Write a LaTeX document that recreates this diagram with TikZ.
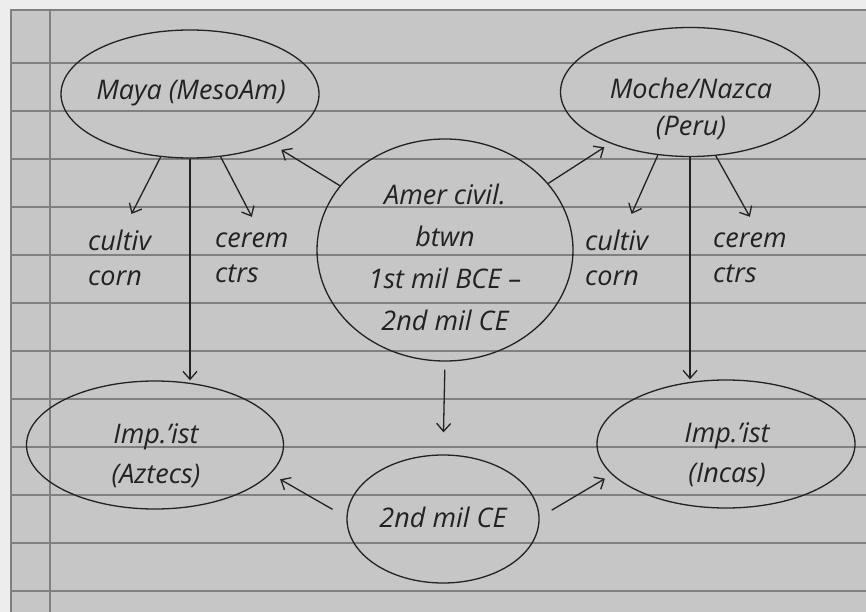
\documentclass[tikz,border=0pt]{standalone}
\usepackage{fontspec}
\setmainfont{Open Sans}
\usetikzlibrary{arrows.meta}
\usetikzlibrary{shapes.geometric}
\usetikzlibrary{positioning}

\definecolor{paper}{HTML}{C6C6C6}
\definecolor{outside}{HTML}{EDEDED}
\definecolor{rule}{HTML}{808080}
\definecolor{ink}{HTML}{222222}

\tikzset{
  oval/.style={draw=ink, line width=1.3pt, ellipse, inner sep=0pt},
  txt/.style={text=ink, align=center, inner sep=2pt, font=\itshape\fontsize{27}{40}\selectfont},
  note/.style={text=ink, align=left, inner sep=2pt, anchor=west, font=\itshape\fontsize{27}{35}\selectfont},
  arr/.style={draw=ink, line width=1.3pt, -{Straight Barb[length=8pt,width=14pt]}},
  ruled/.style={draw=rule, line width=1.4pt}
}

\begin{document}
\begin{tikzpicture}[x=1pt,y=-1pt]
\useasboundingbox (0,0) rectangle (866,612);

% page
\fill[outside] (0,0) rectangle (866,612);
\fill[paper] (11,10) rectangle (866,612);
\foreach \y in {63,111,...,591}
  \draw[ruled] (11,\y) -- (866,\y);
\draw[ruled] (11,612) -- (11,10) -- (866,10);
\draw[ruled] (50,10) -- (50,612);

% ovals
\node[oval, minimum width=256pt, minimum height=222pt] (amer) at (445,250) {};
\node[txt, font=\itshape\fontsize{27}{42}\selectfont] (amerT) at (445,257) {Amer civil.\\btwn\\1st mil BCE --\\2nd mil CE};

\node[oval, minimum width=258pt, minimum height=128pt] (maya) at (190,94) {};
\node[txt] (mayaT) at (191,93) {Maya (MesoAm)};

\node[oval, minimum width=259pt, minimum height=129pt] (moche) at (690,92) {};
\node[txt, font=\itshape\fontsize{27}{37}\selectfont] (mocheT) at (691,109) {Moche/Nazca\\(Peru)};

\node[oval, minimum width=257pt, minimum height=128pt] (aztecs) at (155,445) {};
\node[txt] (aztecsT) at (156,456) {Imp.’ist\\(Aztecs)};

\node[oval, minimum width=258pt, minimum height=128pt] (incas) at (726,444) {};
\node[txt] (incasT) at (727,455) {Imp.’ist\\(Incas)};

\node[oval, minimum width=192pt, minimum height=128pt] (second) at (443,519) {};
\node[txt] (secondT) at (443,517) {2nd mil CE};

% notes
\node[note] (mayaCult) at (86,258) {cultiv\\corn};
\node[note] (mayaCer) at (213,258) {cerem\\ctrs};
\node[note] (mocheCult) at (583,258) {cultiv\\corn};
\node[note] (mocheCer) at (711,258) {cerem\\ctrs};

%
\draw[arr, shorten >=11pt] (amer) -- (maya);
\draw[arr, shorten >=7pt] (amer) -- (moche);
\draw[arr] (maya.245) -- ([xshift=12pt,yshift=14pt]mayaCult.north);
\draw[arr] (maya.296) -- ([xshift=0pt,yshift=14pt]mayaCer.north);
\draw[arr] (moche.243) -- ([xshift=15pt,yshift=14pt]mocheCult.north);
\draw[arr] (moche.292) -- ([xshift=0pt,yshift=14pt]mocheCer.north);
\draw[arr] (maya.south) -- (maya.south |- aztecs.north);
\draw[arr] (moche.south) -- (moche.south |- incas.north);
\draw[arr, shorten <=8pt, shorten >=22pt] (amer.south) -- (second.north);
\draw[arr, shorten <=16pt, shorten >=11pt] (second.179) -- (aztecs.-14);
\draw[arr, shorten <=14pt, shorten >=8pt] (second.1) -- (incas.195);
\end{tikzpicture}
\end{document}
